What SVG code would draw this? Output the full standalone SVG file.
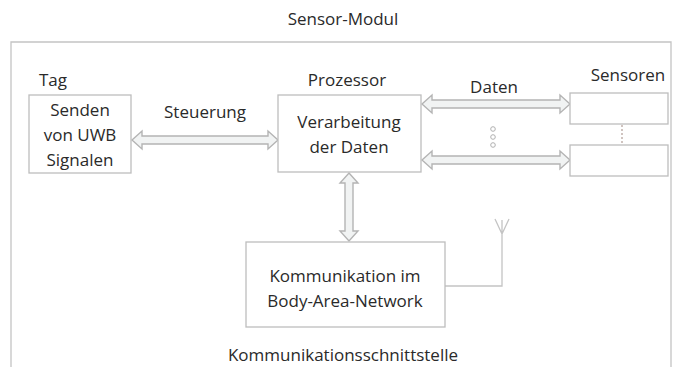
<svg xmlns="http://www.w3.org/2000/svg" width="685" height="367" viewBox="0 0 685 367">
<style>
.t{font-family:"Open Sans","Liberation Sans",sans-serif;font-size:17px;fill:#2a2a2a;text-anchor:middle}
.box{fill:#fff;stroke:#bdbdbd;stroke-width:1.3}
.arr{fill:#f1f3f3;stroke:#b4b4b4;stroke-width:1.4;stroke-linejoin:miter}
.ln{fill:none;stroke:#c4c4c4;stroke-width:1.3}
</style>
<rect width="685" height="367" fill="#fff"/>
<g id="frame">
<path class="ln" d="M11,367 L11,42 L671,42 L671,367"/>
<text class="t" x="343" y="25">Sensor-Modul</text>
</g>
<g id="connectors">
<path class="arr" d="M132,140 L142,131 L142,136 L268,136 L268,131 L278,140 L268,149 L268,144 L142,144 L142,149 Z"/>
<path class="arr" d="M422,104 L432,95 L432,100 L560,100 L560,95 L570,104 L560,113 L560,108 L432,108 L432,113 Z"/>
<path class="arr" d="M422,160 L432,151 L432,156 L560,156 L560,151 L570,160 L560,169 L560,164 L432,164 L432,169 Z"/>
<path class="arr" d="M349,173 L358,183 L353,183 L353,231 L358,231 L349,241 L340,231 L345,231 L345,183 L340,183 Z"/>
<path class="ln" d="M445,286 L502,286 L502,220 M502,234 L495,219 M502,234 L509,219"/>
<g fill="none" stroke="#b0b0b0" stroke-width="1">
<circle cx="493" cy="129" r="2.3"/>
<circle cx="493" cy="137" r="2.3"/>
<circle cx="493" cy="145" r="2.3"/>
</g>
<path d="M622,125 L622,145" stroke="#d0c4c0" stroke-width="2" stroke-dasharray="2,2"/>
<text class="t" x="205" y="118">Steuerung</text>
<text class="t" x="494" y="93">Daten</text>
</g>
<g id="tag">
<text class="t" x="53" y="86">Tag</text>
<rect class="box" x="29" y="95" width="102" height="78"/>
<text class="t" x="80" y="116">Senden</text>
<text class="t" x="80" y="141">von UWB</text>
<text class="t" x="80" y="166">Signalen</text>
</g>
<g id="prozessor">
<text class="t" x="347" y="86">Prozessor</text>
<rect class="box" x="278" y="95" width="143" height="77"/>
<text class="t" x="349" y="128">Verarbeitung</text>
<text class="t" x="349" y="153">der Daten</text>
</g>
<g id="sensoren">
<text class="t" x="628" y="81">Sensoren</text>
<rect class="box" x="570" y="93" width="98" height="31"/>
<rect class="box" x="570" y="145" width="98" height="31"/>
</g>
<g id="kommunikation">
<rect class="box" x="246" y="242" width="199" height="85"/>
<text class="t" x="345" y="282">Kommunikation im</text>
<text class="t" x="345" y="307">Body-Area-Network</text>
<text class="t" x="343" y="361">Kommunikationsschnittstelle</text>
</g>
</svg>
